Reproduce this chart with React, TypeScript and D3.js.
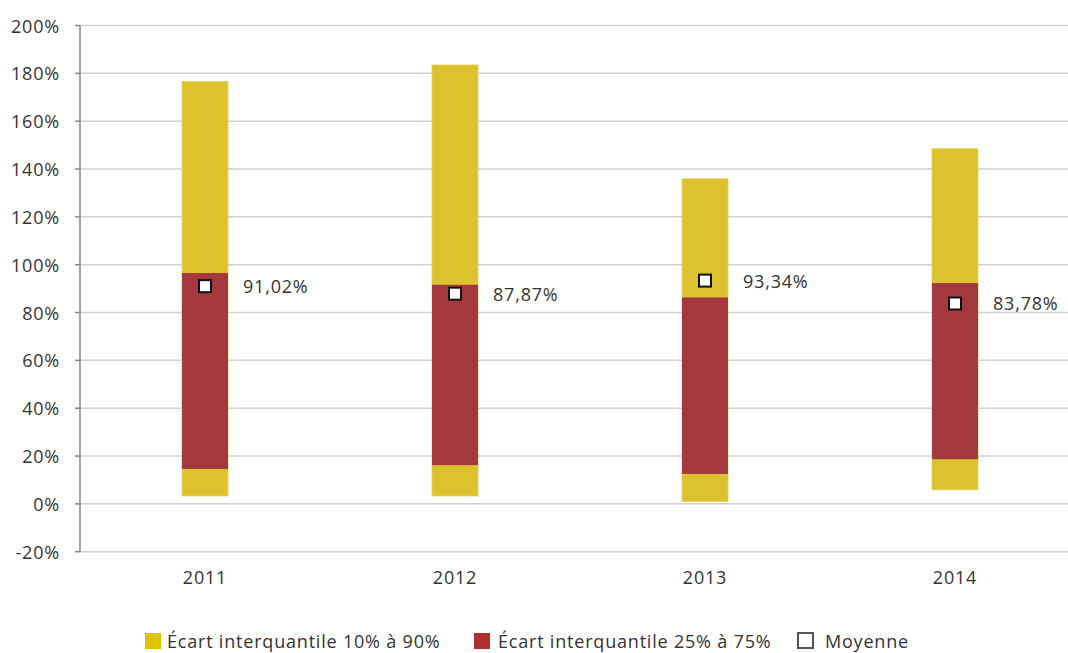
import React from 'react';
import * as d3 from 'd3';

const years = ['2011', '2012', '2013', '2014'];
// interquantile 10%-90% (low, high), 25%-75% (low, high), mean — in %
const p10 = [3.3, 3.3, 1.0, 5.9];
const p90 = [176.6, 183.5, 135.9, 148.5];
const p25 = [14.6, 16.2, 12.5, 18.7];
const p75 = [96.5, 91.6, 86.3, 92.3];
const means = [91.02, 87.87, 93.34, 83.78];
const yTicks = [-20, 0, 20, 40, 60, 80, 100, 120, 140, 160, 180, 200];

const W = 1068;
const H = 653;
const FONT = '"Open Sans", Roboto, sans-serif';
const FS = 18;
const LS = 0.8;

export default function App() {
  const x = d3.scaleBand().domain(years).range([80, 1080]);
  const y = d3.scaleLinear().domain([-20, 200]).range([551.7, 25.5]);
  const bw = 46;
  const fmt = (v: number) => v.toFixed(2).replace('.', ',') + '%';

  return (
    <svg width={W} height={H} style={{ position: 'absolute', left: 0, top: 0, background: '#fff' }}>
      {yTicks.map(t => (
        <g key={t}>
          <line x1={80} x2={W} y1={y(t)} y2={y(t)} stroke="#d2d2d2" strokeWidth={1.5} />
          <line x1={75} x2={80} y1={y(t)} y2={y(t)} stroke="#8a8580" strokeWidth={1.5} />
          <text x={60} y={y(t)} textAnchor="end" dominantBaseline="central"
            fontFamily={FONT} fontSize={FS} letterSpacing={LS} fill="#333">{t}%</text>
        </g>
      ))}
      <line x1={80} x2={80} y1={y(200)} y2={y(-20)} stroke="#8a8580" strokeWidth={1.5} />

      {years.map((yr, i) => {
        const cx = x(yr)! + x.bandwidth() / 2;
        return (
          <g key={yr}>
            <rect x={cx - bw / 2} y={y(p90[i])} width={bw} height={y(p10[i]) - y(p90[i])}
              fill="#dcc22e" stroke="#e6d055" strokeWidth={0.8} />
            <rect x={cx - bw / 2} y={y(p75[i])} width={bw} height={y(p25[i]) - y(p75[i])}
              fill="#a4383f" />
            <rect x={cx - 6} y={y(means[i]) - 6} width={12} height={12}
              fill="#fff" stroke="#111" strokeWidth={2} />
            <text x={cx + 38} y={y(means[i])} dominantBaseline="central"
              fontFamily={FONT} fontSize={FS} letterSpacing={LS} fill="#333">{fmt(means[i])}</text>
            <text x={cx} y={577} textAnchor="middle" dominantBaseline="central"
              fontFamily={FONT} fontSize={FS} letterSpacing={LS} fill="#333">{yr}</text>
          </g>
        );
      })}

      <g fontFamily={FONT} fontSize={FS} letterSpacing={LS} fill="#333">
        <rect x={145} y={633} width={16} height={16} fill="#e2c300" />
        <text x={167} y={641} dominantBaseline="central">Écart interquantile 10% à 90%</text>
        <rect x={474} y={633} width={16} height={16} fill="#b02e2e" />
        <text x={498} y={641} dominantBaseline="central">Écart interquantile 25% à 75%</text>
        <rect x={798} y={633} width={15} height={15} fill="#fff" stroke="#555" strokeWidth={2} />
        <text x={825} y={641} dominantBaseline="central">Moyenne</text>
      </g>
    </svg>
  );
}
